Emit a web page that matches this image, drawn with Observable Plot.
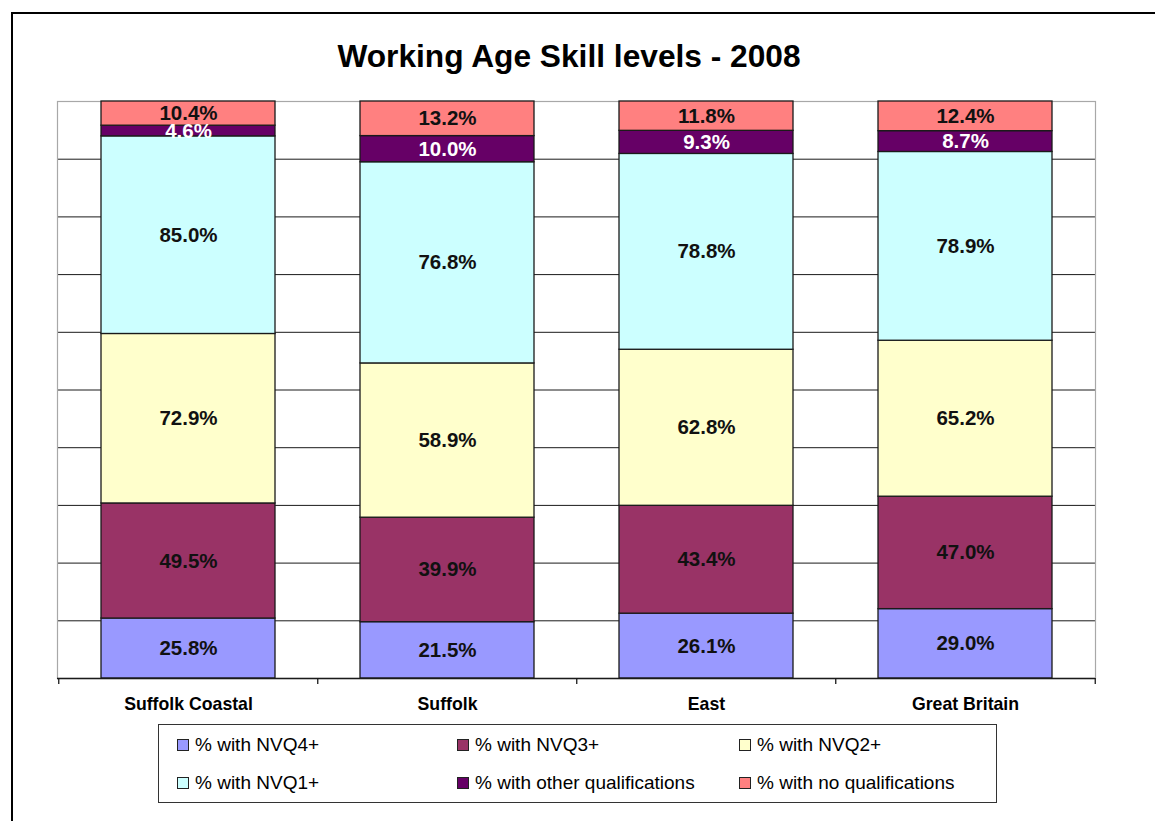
<!DOCTYPE html>
<html>
<head>
<meta charset="utf-8">
<script src="https://cdn.jsdelivr.net/npm/d3@7"></script>
<script src="https://cdn.jsdelivr.net/npm/@observablehq/plot@0.6"></script>
<style>
  html, body { margin: 0; padding: 0; background: #fff; }
  #page { position: relative; width: 1155px; height: 821px; overflow: hidden; font-family: "Liberation Sans", Arial, sans-serif; background: #fff; }
  #frame { position: absolute; left: 11px; top: 12px; width: 1300px; height: 1000px; border: 2px solid #000; box-sizing: border-box; z-index: 5; pointer-events: none; }
  #title { position: absolute; left: 0; top: 38px; width: 1138px; text-align: center; font-size: 31.7px; line-height: 36px; font-weight: bold; color: #000; }
  #chart { position: absolute; left: 0; top: 80px; }
  #legend { position: absolute; left: 158px; top: 724px; width: 839px; height: 79px; border: 1.5px solid #333; box-sizing: border-box; }
  .item { position: absolute; display: flex; align-items: center; font-size: 19px; color: #000; white-space: nowrap; }
  .sw { width: 10px; height: 10px; border: 1px solid #222; margin-right: 6px; }
</style>
</head>
<body>
<div id="page">
  <div id="title">Working Age Skill levels - 2008</div>
  <div id="chart"></div>
  <div id="legend"></div>
  <div id="frame"></div>
</div>
<script>
const categories = ["Suffolk Coastal", "Suffolk", "East", "Great Britain"];
const seriesNames = ["% with NVQ4+", "% with NVQ3+", "% with NVQ2+", "% with NVQ1+", "% with other qualifications", "% with no qualifications"];
const nvq4 = [25.8, 21.5, 26.1, 29.0];
const nvq3 = [49.5, 39.9, 43.4, 47.0];
const nvq2 = [72.9, 58.9, 62.8, 65.2];
const nvq1 = [85.0, 76.8, 78.8, 78.9];
const otherQual = [4.6, 10.0, 9.3, 8.7];
const noQual = [10.4, 13.2, 11.8, 12.4];
const seriesColors = ["#9999FF", "#993366", "#FFFFCC", "#CCFFFF", "#660066", "#FF8080"];
const gridTicks = [0.1, 0.2, 0.3, 0.4, 0.5, 0.6, 0.7, 0.8, 0.9];

const seriesValues = [nvq4, nvq3, nvq2, nvq1, otherQual, noQual];
const data = [];
seriesNames.forEach((s, si) => {
  categories.forEach((c, ci) => data.push({series: s, cat: c, value: seriesValues[si][ci]}));
});

const W = 1155, H = 640, mL = 57, mR = 60, mT = 21, mB = 42;
const step = (W - mL - mR) / categories.length;
const font = "Liberation Sans, Arial, sans-serif";

const stackOpts = {offset: "normalize", x: "cat", y: "value", z: "series"};
const labelText = d => d.value.toFixed(1) + "%";

const plot = Plot.plot({
  width: W,
  height: H,
  marginLeft: mL,
  marginRight: mR,
  marginTop: mT,
  marginBottom: mB,
  style: {background: "transparent", fontFamily: font},
  x: {type: "band", domain: categories, paddingInner: 0.33, paddingOuter: 0.165, axis: null},
  y: {domain: [0, 1], axis: null},
  color: {domain: seriesNames, range: seriesColors},
  marks: [
    Plot.ruleY(gridTicks, {stroke: "#1a1a1a", strokeWidth: 1}),
    Plot.frame({stroke: "#a8a8a8", strokeWidth: 1.2}),
    Plot.barY(data, Plot.stackY({...stackOpts, fill: "series", stroke: "#1a1a1a", strokeWidth: 1.3})),
    Plot.text(data, Plot.filter(d => d.series !== seriesNames[4], Plot.stackY({...stackOpts, text: labelText, fill: "#111", fontSize: 20.5, fontWeight: "bold", fontFamily: font}))),
    Plot.text(data, Plot.filter(d => d.series === seriesNames[4], Plot.stackY({...stackOpts, text: labelText, fill: "white", fontSize: 20.5, fontWeight: "bold", fontFamily: font}))),
    Plot.ruleY([0], {stroke: "#1a1a1a", strokeWidth: 1.3}),
    Plot.ruleX(categories, {x: d => d, dx: -step / 2, y1: 0, y2: 0, insetBottom: -6, stroke: "#1a1a1a", strokeWidth: 1.3}),
    Plot.ruleX(categories.slice(-1), {x: d => d, dx: step / 2, y1: 0, y2: 0, insetBottom: -6, stroke: "#1a1a1a", strokeWidth: 1.3}),
    Plot.text(categories, {x: d => d, y: 0, dy: 26, text: d => d, fontSize: 17.7, fontWeight: "bold", fontFamily: font, fill: "#000"})
  ]
});
document.getElementById("chart").appendChild(plot);

// legend
const legend = document.getElementById("legend");
const colLeft = [18, 298, 580];
const rowTop = [9, 47];
seriesNames.forEach((s, i) => {
  const item = document.createElement("div");
  item.className = "item";
  item.style.left = colLeft[i % 3] + "px";
  item.style.top = rowTop[Math.floor(i / 3)] + "px";
  const sw = document.createElement("div");
  sw.className = "sw";
  sw.style.background = seriesColors[i];
  const t = document.createElement("span");
  t.textContent = s;
  item.appendChild(sw);
  item.appendChild(t);
  legend.appendChild(item);
});
</script>
</body>
</html>
